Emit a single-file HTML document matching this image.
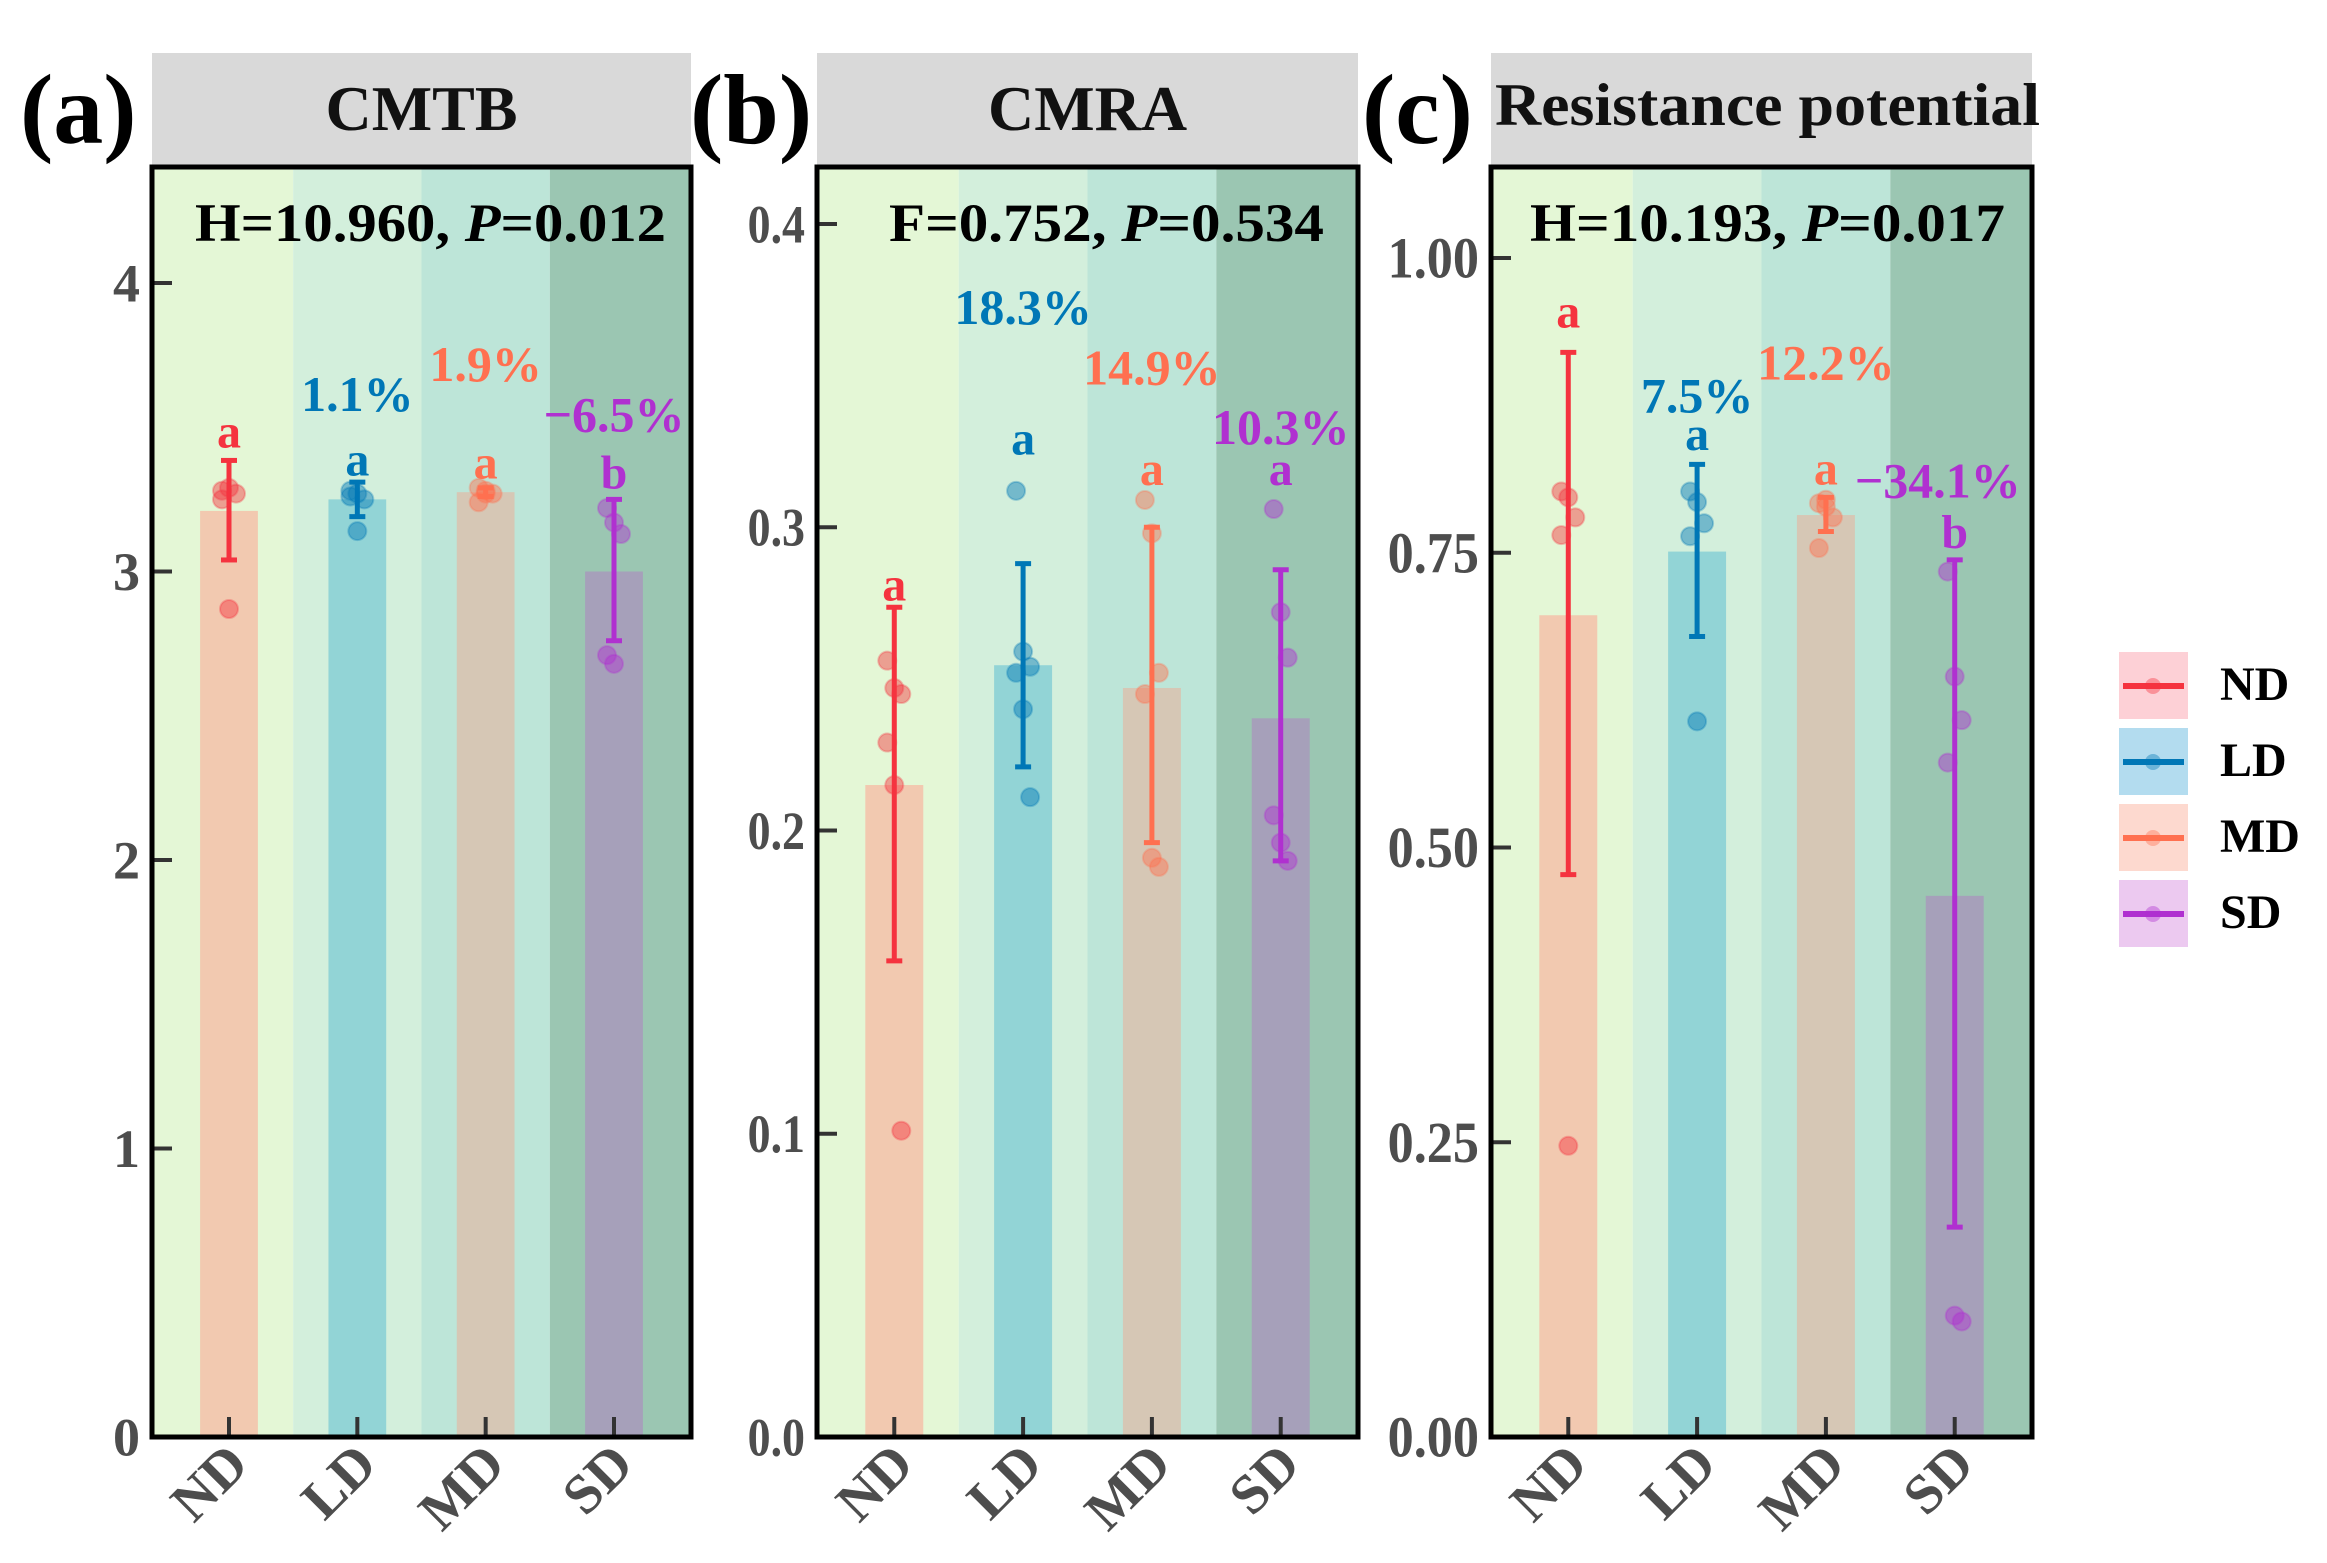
<!DOCTYPE html>
<html><head><meta charset="utf-8">
<style>
html,body{margin:0;padding:0;background:#fff;}
svg{display:block;font-family:"Liberation Serif",serif;font-weight:bold;}
</style></head>
<body>
<svg id="chart" width="2327" height="1563" viewBox="0 0 2327 1563" xmlns="http://www.w3.org/2000/svg"></svg>
<script>
// ---- data ----
const categories = ["ND","LD","MD","SD"];
// Panel a: CMTB
const cmtbMeans = [3.21, 3.25, 3.275, 3.0];
const cmtbErrHi = [3.385, 3.31, 3.29, 3.25];
const cmtbErrLo = [3.04, 3.19, 3.26, 2.76];
const cmtbPoints = [[3.28,3.29,3.27,3.25,2.87],[3.28,3.27,3.25,3.26,3.14],[3.29,3.27,3.27,3.24,3.28],[3.22,3.17,3.13,2.71,2.68]];
const cmtbLetters = ["a","a","a","b"];
const cmtbLetterY = [3.43, 3.333, 3.323, 3.288];
const cmtbPct = ["", "1.1%", "1.9%", "\u22126.5%"];
const cmtbPctY = [0, 3.556, 3.66, 3.486];
const cmtbTicks = [0,1,2,3,4];
const cmtbTickLabels = ["0","1","2","3","4"];
// Panel b: CMRA
const cmraMeans = [0.215, 0.2545, 0.247, 0.237];
const cmraErrHi = [0.2736, 0.288, 0.300, 0.286];
const cmraErrLo = [0.157, 0.221, 0.196, 0.190];
const cmraPoints = [[0.256,0.247,0.245,0.229,0.215,0.101],[0.312,0.259,0.254,0.252,0.240,0.211],[0.309,0.298,0.252,0.245,0.191,0.188],[0.306,0.272,0.257,0.205,0.196,0.190]];
const cmraLetters = ["a","a","a","a"];
const cmraLetterY = [0.2758, 0.324, 0.314, 0.314];
const cmraPct = ["", "18.3%", "14.9%", "10.3%"];
const cmraPctY = [0, 0.367, 0.347, 0.3275];
const cmraTicks = [0,0.1,0.2,0.3,0.4];
const cmraTickLabels = ["0.0","0.1","0.2","0.3","0.4"];
// Panel c: Resistance potential
const resMeans = [0.697, 0.751, 0.782, 0.459];
const resErrHi = [0.920, 0.825, 0.797, 0.744];
const resErrLo = [0.477, 0.679, 0.768, 0.178];
const resPoints = [[0.802,0.797,0.78,0.765,0.247],[0.802,0.793,0.775,0.764,0.607],[0.792,0.789,0.78,0.754,0.795],[0.734,0.645,0.608,0.572,0.103,0.098]];
const resLetters = ["a","a","a","b"];
const resLetterY = [0.941, 0.837, 0.808, 0.754];
const resPct = ["", "7.5%", "12.2%", "\u221234.1%"];
const resPctY = [0, 0.869, 0.897, 0.797];
const resTicks = [0,0.25,0.5,0.75,1.0];
const resTickLabels = ["0.00","0.25","0.50","0.75","1.00"];

// ---- style ----
const lineCol = ["#f5333f","#0077b6","#ff7050","#b030d0"];
const barCol = ["#f2c9b0","#92d4d6","#d6c7b5","#a6a0ba"];
const stripCol = ["#e4f7d6","#d3efdc","#bde5d8","#9bc6b2"];
const keyCol = ["#fdd0d6","#b3dcef","#fdd9cf","#ecc9f0"];
const NS = "http://www.w3.org/2000/svg";
const svg = document.getElementById("chart");
function mk(tag, attrs, parent, text){
  const e = document.createElementNS(NS, tag);
  for (const k in attrs) e.setAttribute(k, attrs[k]);
  if (text !== undefined) e.textContent = text;
  (parent || svg).appendChild(e);
  return e;
}
function natWidth(s, size){
  let w = 0;
  for (const ch of s) w += (ch === "." ? 0.25 : 0.5);
  return w * size;
}

function panel(o){
  const g = mk("g", {});
  
  
  const L=o.x0, R=o.x1, T=167, B=1437;
  const unit=(R-L)/4.2;
  const xs = i => L + (i+0.6)*unit;
  const ys = v => B - (v - 0)/(o.ymax) * (B - o.ytop);
  // header
  const hd = mk("rect",{x:L,y:53,width:R-L,height:T-53,fill:"#d9d9d9"},g);
  
  
  const tt = mk("text",{x:(L+R)/2,y:o.titleY,"text-anchor":"middle","font-size":o.titleSize,fill:"#111"},g,o.title);
  if (o.titleLen) { tt.setAttribute("textLength", o.titleLen); tt.setAttribute("lengthAdjust","spacingAndGlyphs"); tt.setAttribute("x", L+4); tt.setAttribute("text-anchor","start"); }
  
  
  const pl = mk("text",{x:o.labX,y:143,"font-size":100,fill:"#000"},g,o.label);
  
  
  // strips
  for (let i=0;i<4;i++){
    const a = i===0 ? L : L+(i+0.1)*unit;
    const b = i===3 ? R : L+(i+1.1)*unit;
    const s = mk("rect",{x:a,y:T,width:b-a,height:B-T,fill:stripCol[i]},g);
    
    
  }
  // bars
  for (let i=0;i<4;i++){
    const bw = 0.45*unit;
    const r = mk("rect",{x:xs(i)-bw/2,y:ys(o.means[i]),width:bw,height:B-ys(o.means[i]),fill:barCol[i]},g);
    
    
  }
  // points
  for (let i=0;i<4;i++){
    o.points[i].forEach((v,j)=>{
      const dx = ((j%3)-1)*7;
      const c = mk("circle",{cx:xs(i)+dx,cy:ys(v),r:9,fill:lineCol[i],"fill-opacity":0.45,stroke:lineCol[i],"stroke-opacity":0.3,"stroke-width":2},g);
      
      
    });
  }
  // error bars
  for (let i=0;i<4;i++){
    const eg = mk("g",{stroke:lineCol[i],"stroke-width":5},g);
    
    
    mk("line",{x1:xs(i),x2:xs(i),y1:ys(o.hi[i]),y2:ys(o.lo[i])},eg);
    mk("line",{x1:xs(i)-8,x2:xs(i)+8,y1:ys(o.hi[i]),y2:ys(o.hi[i])},eg);
    mk("line",{x1:xs(i)-8,x2:xs(i)+8,y1:ys(o.lo[i]),y2:ys(o.lo[i])},eg);
  }
  // letters & pct
  for (let i=0;i<4;i++){
    const t = mk("text",{x:xs(i),y:ys(o.letterY[i]),"text-anchor":"middle","font-size":48,fill:lineCol[i]},g,o.letters[i]);
    
    
    if (o.pct[i]) {
      const p = mk("text",{x:xs(i)+(i===3?o.pctShift:0),y:ys(o.pctY[i]),"text-anchor":"middle","font-size":50,fill:lineCol[i]},g,o.pct[i]);
      
      
    }
  }
  // stat text
  const st = mk("text",{x:o.statX0,y:241,"font-size":54,fill:"#000",textLength:o.statLen,lengthAdjust:"spacingAndGlyphs"},g);
  
  
  mk("tspan",{},st,o.stat1);
  mk("tspan",{"font-style":"italic"},st,"P");
  mk("tspan",{},st,o.stat2);
  // y ticks
  o.ticks.forEach((v,k)=>{
    mk("line",{x1:L,x2:L+20,y1:ys(v),y2:ys(v),stroke:"#333","stroke-width":4},g);
    const lab = o.tickLabels[k];
    const tl = mk("text",{x:L-12,y:ys(v)+o.tickSize*0.34,"text-anchor":"end","font-size":o.tickSize,fill:"#4d4d4d"},g,lab);
    if (lab.length > 1) { tl.setAttribute("textLength", natWidth(lab,o.tickSize)*o.tickSqueeze); tl.setAttribute("lengthAdjust","spacingAndGlyphs"); }
    
    
  });
  // x ticks & labels
  for (let i=0;i<4;i++){
    mk("line",{x1:xs(i),x2:xs(i),y1:B,y2:B-20,stroke:"#333","stroke-width":4},g);
    const xl = mk("text",{x:0,y:0,"text-anchor":"end","font-size":56,fill:"#4d4d4d",transform:`translate(${xs(i)+22},${B+30}) rotate(-45)`},g,categories[i]);
    
    
  }
  // frame
  mk("rect",{x:L,y:T,width:R-L,height:B-T,fill:"none",stroke:"#000","stroke-width":5},g);
}

panel({name:"panel-cmtb",x0:152,x1:691,ytop:283,ymax:4,title:"CMTB",titleY:130,titleSize:64,label:"(a)",labX:20,
  means:cmtbMeans,hi:cmtbErrHi,lo:cmtbErrLo,points:cmtbPoints,letters:cmtbLetters,letterY:cmtbLetterY,pct:cmtbPct,pctY:cmtbPctY,pctShift:0,
  statX0:195,statLen:471,stat1:"H=10.960, ",stat2:"=0.012",ticks:cmtbTicks,tickLabels:cmtbTickLabels,tickSize:54,tickSqueeze:0.85});
panel({name:"panel-cmra",x0:817,x1:1358,ytop:224,ymax:0.4,title:"CMRA",titleY:130,titleSize:64,label:"(b)",labX:690,
  means:cmraMeans,hi:cmraErrHi,lo:cmraErrLo,points:cmraPoints,letters:cmraLetters,letterY:cmraLetterY,pct:cmraPct,pctY:cmraPctY,pctShift:0,
  statX0:889,statLen:435,stat1:"F=0.752, ",stat2:"=0.534",ticks:cmraTicks,tickLabels:cmraTickLabels,tickSize:54,tickSqueeze:0.85});
panel({name:"panel-resistance",x0:1491,x1:2032,ytop:258,ymax:1.0,title:"Resistance potential",titleY:125,titleSize:60,titleLen:545,label:"(c)",labX:1362,
  means:resMeans,hi:resErrHi,lo:resErrLo,points:resPoints,letters:resLetters,letterY:resLetterY,pct:resPct,pctY:resPctY,pctShift:-17,
  statX0:1530,statLen:475,stat1:"H=10.193, ",stat2:"=0.017",ticks:resTicks,tickLabels:resTickLabels,tickSize:58,tickSqueeze:0.9});

// legend
const lg = mk("g",{});


const keyTops = [652, 728, 804, 880];
categories.forEach((c,i)=>{
  const e = mk("g",{},lg);
  
  
  const y = keyTops[i];
  mk("rect",{x:2119,y:y,width:69,height:67,fill:keyCol[i]},e);
  mk("line",{x1:2123,x2:2184,y1:y+34,y2:y+34,stroke:lineCol[i],"stroke-width":6},e);
  mk("circle",{cx:2153,cy:y+34,r:8,fill:lineCol[i],"fill-opacity":0.4},e);
  mk("text",{x:2220,y:y+48,"font-size":48,fill:"#000"},e,c);
});
</script>
</body></html>
